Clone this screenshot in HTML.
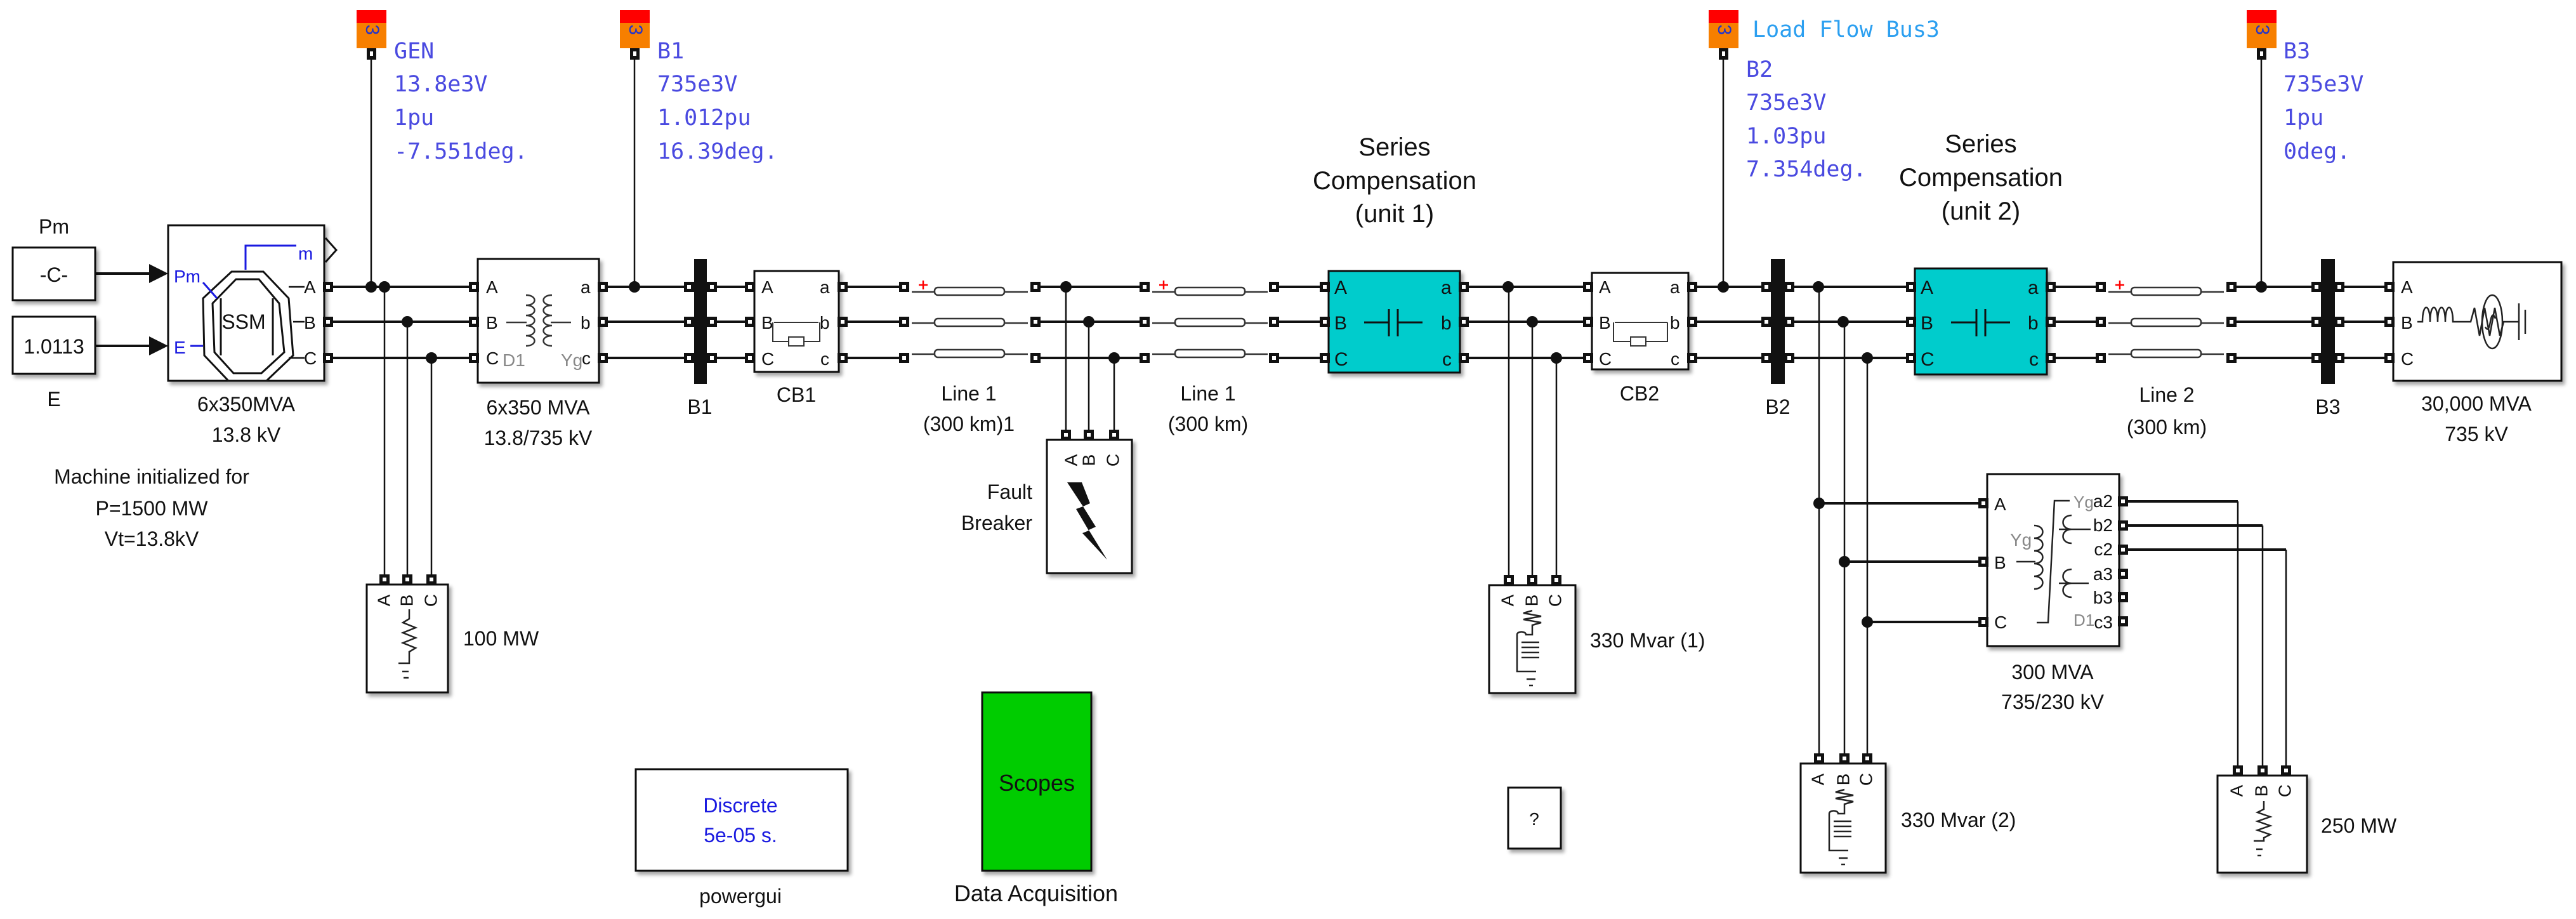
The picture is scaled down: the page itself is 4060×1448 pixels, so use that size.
<!DOCTYPE html>
<html><head><meta charset="utf-8"><style>
html,body{margin:0;padding:0;background:#fff;}
svg{display:block}
.t{font-family:"Liberation Sans",Arial,sans-serif;fill:#111;}
.p{font-family:"DejaVu Sans Mono","Liberation Mono",monospace;fill:#4a4ae0;font-size:35px;}
</style></head><body>
<svg width="4060" height="1448" viewBox="0 0 4060 1448" xmlns="http://www.w3.org/2000/svg">
<defs>
<g id="pt"><rect x="-8" y="-8" width="16" height="16" fill="#111"/><rect x="-3" y="-3" width="6" height="6" fill="#fff"/></g>
<g id="probe"><rect x="0" y="0" width="47" height="22" fill="#f00"/><rect x="0" y="20" width="47" height="40" fill="#f77f00"/><text x="14" y="40" transform="rotate(90 23 40)" font-family="Liberation Sans,sans-serif" font-size="30" fill="#2233cc" text-anchor="middle" dominant-baseline="middle">3</text><rect x="16" y="60" width="15" height="18" fill="#111"/><rect x="21" y="65" width="5" height="7" fill="#fff"/></g>
<filter id="sh" x="-10%" y="-10%" width="130%" height="130%"><feDropShadow dx="4" dy="5" stdDeviation="3" flood-color="#000" flood-opacity="0.35"/></filter>
</defs>

<!-- main wires -->
<g stroke="#111" stroke-width="4" fill="none">
<path d="M150 431H258M150 545H258"/>
<path d="M517 452H749M517 507H749M517 564H749"/>
<path d="M950 452H1182M950 507H1182M950 564H1182"/>
<path d="M1328 452H1417M1328 507H1417M1328 564H1417"/>
<path d="M1640 452H1796M1640 507H1796M1640 564H1796"/>
<path d="M2015 452H2088M2015 507H2088M2015 564H2088"/>
<path d="M2307 452H2503M2307 507H2503M2307 564H2503"/>
<path d="M2667 452H3012M2667 507H3012M2667 564H3012"/>
<path d="M3232 452H3304M3232 507H3304M3232 564H3304"/>
<path d="M3524 452H3766M3524 507H3766M3524 564H3766"/>
</g>
<!-- verticals -->
<g stroke="#111" stroke-width="2.5" fill="none">
<path d="M585 81V452M1000 81V452M2716 81V452M3564 81V452"/>
<path d="M606 452V913M642 507V913M680 564V913"/>
<path d="M1680 452V685M1716 507V685M1756 564V685"/>
<path d="M2378 452V913M2415 507V913M2453 564V913"/>
<path d="M2867 452V1195M2907 507V1195M2943 564V1195"/>
<path d="M3527 790V1214M3566 828V1214M3603 866V1214"/>
</g>
<g stroke="#111" stroke-width="4" fill="none">
<path d="M2867 793H3127M2907 885H3127M2943 980H3127"/>
<path d="M3346 790H3527M3346 828H3566M3346 866H3603"/>
</g>
<!-- dots -->
<g fill="#111">
<circle cx="585" cy="452" r="9"/><circle cx="606" cy="452" r="9"/><circle cx="642" cy="507" r="9"/><circle cx="680" cy="564" r="9"/>
<circle cx="1000" cy="452" r="9"/>
<circle cx="1680" cy="452" r="9"/><circle cx="1716" cy="507" r="9"/><circle cx="1756" cy="564" r="9"/>
<circle cx="2377" cy="452" r="9"/><circle cx="2415" cy="507" r="9"/><circle cx="2453" cy="564" r="9"/>
<circle cx="2716" cy="452" r="9"/>
<circle cx="2866" cy="452" r="9"/><circle cx="2905" cy="507" r="9"/><circle cx="2943" cy="564" r="9"/>
<circle cx="3564" cy="452" r="9"/>
<circle cx="2867" cy="793" r="9"/><circle cx="2907" cy="885" r="9"/><circle cx="2943" cy="980" r="9"/>
</g>

<!-- probes -->
<use href="#probe" x="562" y="16"/><use href="#probe" x="977" y="16"/><use href="#probe" x="2693" y="16"/><use href="#probe" x="3541" y="16"/>
<g class="p">
<text x="621" y="92">GEN</text><text x="621" y="144">13.8e3V</text><text x="621" y="197">1pu</text><text x="621" y="250">-7.551deg.</text>
<text x="1036" y="92">B1</text><text x="1036" y="144">735e3V</text><text x="1036" y="197">1.012pu</text><text x="1036" y="250">16.39deg.</text>
<text x="2752" y="121">B2</text><text x="2752" y="173">735e3V</text><text x="2752" y="226">1.03pu</text><text x="2752" y="278">7.354deg.</text>
<text x="3599" y="92">B3</text><text x="3599" y="144">735e3V</text><text x="3599" y="197">1pu</text><text x="3599" y="250">0deg.</text>
<text x="2762" y="58" style="fill:#2b9ff0">Load Flow Bus3</text>
</g>

<!-- constants -->
<rect x="20" y="390" width="130" height="83" fill="#fff" stroke="#111" stroke-width="3" filter="url(#sh)"/>
<text class="t" x="85" y="444" font-size="32" text-anchor="middle">-C-</text>
<rect x="20" y="499" width="130" height="90" fill="#fff" stroke="#111" stroke-width="3" filter="url(#sh)"/>
<text class="t" x="85" y="557" font-size="32" text-anchor="middle">1.0113</text>
<text class="t" x="85" y="368" font-size="32" text-anchor="middle">Pm</text>
<text class="t" x="85" y="640" font-size="32" text-anchor="middle">E</text>
<path d="M235 416L265 431L235 446Z M235 530L265 545L235 560Z" fill="#111"/>

<!-- machine -->
<rect x="265" y="355" width="246" height="245" fill="#fff" stroke="#111" stroke-width="3" filter="url(#sh)"/>
<path d="M513 375L530 394L513 413" fill="none" stroke="#111" stroke-width="3"/>
<polygon points="365,428 415,428 455,470 462,560 420,600 360,600 322,560 320,470" fill="none" stroke="#111" stroke-width="3"/>
<polygon points="372,440 408,440 440,478 448,555 412,588 368,588 338,555 335,478" fill="none" stroke="#111" stroke-width="3"/>
<path d="M348 470V560M430 470V560" stroke="#111" stroke-width="3"/>
<text class="t" x="384" y="518" font-size="32" text-anchor="middle">SSM</text>
<path d="M387 425V387H467" stroke="#1a1ae0" stroke-width="3" fill="none"/>
<text class="t" x="470" y="409" font-size="28" style="fill:#1a1ae0">m</text>
<text class="t" x="274" y="445" font-size="28" style="fill:#1a1ae0">Pm</text>
<text class="t" x="274" y="557" font-size="28" style="fill:#1a1ae0">E</text>
<path d="M300 545H320M320 445L342 470" stroke="#1a1ae0" stroke-width="3" fill="none"/>
<path d="M455 452H480M462 507H480M455 564H480" stroke="#111" stroke-width="2.5"/>
<g class="t" font-size="28"><text x="479" y="462">A</text><text x="479" y="518">B</text><text x="479" y="574">C</text></g>
<text class="t" x="388" y="648" font-size="32" text-anchor="middle">6x350MVA</text>
<text class="t" x="388" y="696" font-size="32" text-anchor="middle">13.8 kV</text>
<g class="t" font-size="32" text-anchor="middle"><text x="239" y="762">Machine initialized for</text><text x="239" y="812">P=1500 MW</text><text x="239" y="860">Vt=13.8kV</text></g>

<!-- transformer 1 -->
<rect x="753" y="408" width="191" height="195" fill="#fff" stroke="#111" stroke-width="3" filter="url(#sh)"/>
<g class="t" font-size="28"><text x="766" y="462">A</text><text x="766" y="518">B</text><text x="766" y="574">C</text>
<text x="915" y="462">a</text><text x="915" y="518">b</text><text x="917" y="574">c</text></g>
<text class="t" x="792" y="577" font-size="28" style="fill:#888">D1</text><text class="t" x="884" y="577" font-size="28" style="fill:#888">Yg</text>
<path d="M829 465c18 0 18 16 0 16M829 481c18 0 18 16 0 16M829 497c18 0 18 16 0 16M829 513c18 0 18 16 0 16M829 529c18 0 18 16 0 16 M870 465c-18 0-18 16 0 16M870 481c-18 0-18 16 0 16M870 497c-18 0-18 16 0 16M870 513c-18 0-18 16 0 16M870 529c-18 0-18 16 0 16 M798 508H830M868 508H900" fill="none" stroke="#333" stroke-width="2.5"/>
<text class="t" x="848" y="653" font-size="32" text-anchor="middle">6x350 MVA</text>
<text class="t" x="848" y="701" font-size="32" text-anchor="middle">13.8/735 kV</text>

<!-- buses -->
<rect x="1094" y="408" width="20" height="197" fill="#111"/>
<rect x="2791" y="408" width="22" height="197" fill="#111"/>
<rect x="3658" y="408" width="22" height="197" fill="#111"/>
<text class="t" x="1103" y="652" font-size="32" text-anchor="middle">B1</text>
<text class="t" x="2802" y="652" font-size="32" text-anchor="middle">B2</text>
<text class="t" x="3669" y="652" font-size="32" text-anchor="middle">B3</text>

<!-- CB1 & CB2 -->
<rect x="1189" y="427" width="133" height="159" fill="#fff" stroke="#111" stroke-width="3" filter="url(#sh)"/>
<g class="t" font-size="28"><text x="1200" y="462">A</text><text x="1200" y="518">B</text><text x="1200" y="575">C</text><text x="1292" y="462">a</text><text x="1292" y="518">b</text><text x="1293" y="575">c</text></g>
<path d="M1220 508H1290M1218 508V538H1243M1267 538H1292V508" fill="none" stroke="#333" stroke-width="2"/><rect x="1243" y="531" width="24" height="14" fill="#fff" stroke="#333" stroke-width="2"/>
<text class="t" x="1255" y="633" font-size="32" text-anchor="middle">CB1</text>
<rect x="2509" y="430" width="152" height="152" fill="#fff" stroke="#111" stroke-width="3" filter="url(#sh)"/>
<g class="t" font-size="28"><text x="2520" y="462">A</text><text x="2520" y="518">B</text><text x="2520" y="575">C</text><text x="2632" y="462">a</text><text x="2632" y="518">b</text><text x="2633" y="575">c</text></g>
<path d="M2545 508H2628M2543 508V538H2570M2594 538H2628V508" fill="none" stroke="#333" stroke-width="2"/><rect x="2570" y="531" width="24" height="14" fill="#fff" stroke="#333" stroke-width="2"/>
<text class="t" x="2584" y="631" font-size="32" text-anchor="middle">CB2</text>

<!-- lines -->
<g fill="#fff" stroke="#333" stroke-width="2.5">
<path d="M1437 460H1473M1583 460H1620M1437 509H1473M1583 509H1620M1437 558H1473M1583 558H1620" fill="none"/>
<rect x="1473" y="453" width="110" height="12" rx="5"/><rect x="1473" y="502" width="110" height="12" rx="5"/><rect x="1473" y="551" width="110" height="12" rx="5"/>
<path d="M1816 460H1852M1962 460H1998M1816 509H1852M1962 509H1998M1816 558H1852M1962 558H1998" fill="none"/>
<rect x="1852" y="453" width="110" height="12" rx="5"/><rect x="1852" y="502" width="110" height="12" rx="5"/><rect x="1852" y="551" width="110" height="12" rx="5"/>
<path d="M3323 460H3359M3469 460H3505M3323 509H3359M3469 509H3505M3323 558H3359M3469 558H3505" fill="none"/>
<rect x="3359" y="453" width="110" height="12" rx="5"/><rect x="3359" y="502" width="110" height="12" rx="5"/><rect x="3359" y="551" width="110" height="12" rx="5"/>
</g>
<g stroke="#f00" stroke-width="2.5"><path d="M1448 449h14M1455 442v14M1827 449h14M1834 442v14M3334 449h14M3341 442v14"/></g>
<g class="t" font-size="32" text-anchor="middle">
<text x="1527" y="631">Line 1</text><text x="1527" y="679">(300 km)1</text>
<text x="1904" y="631">Line 1</text><text x="1904" y="679">(300 km)</text>
<text x="3415" y="633">Line 2</text><text x="3415" y="684">(300 km)</text>
</g>

<!-- series compensation -->
<rect x="2094" y="427" width="207" height="160" fill="#00cccc" stroke="#111" stroke-width="3" filter="url(#sh)"/>
<rect x="3018" y="423" width="208" height="167" fill="#00cccc" stroke="#111" stroke-width="3" filter="url(#sh)"/>
<g class="t" font-size="30"><text x="2103" y="463">A</text><text x="2103" y="519">B</text><text x="2103" y="576">C</text><text x="2271" y="463">a</text><text x="2271" y="519">b</text><text x="2273" y="576">c</text>
<text x="3027" y="463">A</text><text x="3027" y="519">B</text><text x="3027" y="576">C</text><text x="3196" y="463">a</text><text x="3196" y="519">b</text><text x="3198" y="576">c</text></g>
<path d="M2150 508H2189M2189 487V530M2203 487V530M2203 508H2242 M3075 508H3115M3115 487V530M3129 487V530M3129 508H3168" stroke="#111" stroke-width="3" fill="none"/>
<g class="t" font-size="40" text-anchor="middle"><text x="2198" y="245">Series</text><text x="2198" y="298">Compensation</text><text x="2198" y="350">(unit 1)</text>
<text x="3122" y="240">Series</text><text x="3122" y="293">Compensation</text><text x="3122" y="346">(unit 2)</text></g>

<!-- source -->
<rect x="3772" y="413" width="265" height="187" fill="#fff" stroke="#111" stroke-width="3" filter="url(#sh)"/>
<g class="t" font-size="28"><text x="3784" y="462">A</text><text x="3784" y="518">B</text><text x="3784" y="575">C</text></g>
<path d="M3810 507h8c0-30 12-30 12 0c0-30 12-30 12 0c0-30 12-30 12 0c0-30 12-30 12 0h28l6-22l8 44l8-44l8 44l8-44l8 44l6-22h12M3944 507h26M3970 478v58M3980 488v38" fill="none" stroke="#222" stroke-width="2.5"/>
<ellipse cx="3928" cy="507" rx="16" ry="42" fill="none" stroke="#222" stroke-width="2.5"/>
<path d="M3917 515q5 10 8-8t8-5" fill="none" stroke="#222" stroke-width="2.5"/>
<text class="t" x="3903" y="647" font-size="32" text-anchor="middle">30,000 MVA</text>
<text class="t" x="3903" y="695" font-size="32" text-anchor="middle">735 kV</text>

<!-- Fault breaker -->
<rect x="1650" y="693" width="134" height="210" fill="#fff" stroke="#111" stroke-width="3" filter="url(#sh)"/>
<g class="t" font-size="28"><text transform="translate(1690 725) rotate(-90)" text-anchor="middle" dominant-baseline="middle">A</text><text transform="translate(1718 725) rotate(-90)" text-anchor="middle" dominant-baseline="middle">B</text><text transform="translate(1756 725) rotate(-90)" text-anchor="middle" dominant-baseline="middle">C</text></g>
<path d="M1682 760L1705 760L1718 793L1707 798L1727 830L1716 835L1745 882L1706 840L1716 836L1696 802L1707 798Z" fill="#111"/>
<text class="t" x="1627" y="786" font-size="32" text-anchor="end">Fault</text>
<text class="t" x="1627" y="835" font-size="32" text-anchor="end">Breaker</text>

<!-- loads -->
<g>
<rect x="578" y="921" width="128" height="170" fill="#fff" stroke="#111" stroke-width="3" filter="url(#sh)"/>
<g class="t" font-size="28"><text transform="translate(607 946) rotate(-90)" text-anchor="middle" dominant-baseline="middle">A</text><text transform="translate(643 946) rotate(-90)" text-anchor="middle" dominant-baseline="middle">B</text><text transform="translate(681 946) rotate(-90)" text-anchor="middle" dominant-baseline="middle">C</text></g>
<path d="M645 960V975l-10 6l20 8l-20 8l20 8l-20 8l20 8l-10 6V1045H628M634 1058h10M636 1068h8" fill="none" stroke="#222" stroke-width="2.5"/>
<text class="t" x="730" y="1017" font-size="32">100 MW</text>
</g>
<g>
<rect x="2347" y="922" width="136" height="170" fill="#fff" stroke="#111" stroke-width="3" filter="url(#sh)"/>
<g class="t" font-size="28"><text transform="translate(2378 946) rotate(-90)" text-anchor="middle" dominant-baseline="middle">A</text><text transform="translate(2416 946) rotate(-90)" text-anchor="middle" dominant-baseline="middle">B</text><text transform="translate(2453 946) rotate(-90)" text-anchor="middle" dominant-baseline="middle">C</text></g>
<path d="M2415 962l-14 4l28 5l-28 5l28 5l-14 4V1000h-10c0-6-14-6-14 0V1058h30M2398 1012h28M2398 1020h28M2398 1028h28M2398 1036h28M2406 1070h14M2410 1080h6" fill="none" stroke="#222" stroke-width="2.5"/>
<text class="t" x="2506" y="1020" font-size="32">330 Mvar (1)</text>
</g>
<g>
<rect x="2838" y="1203" width="134" height="172" fill="#fff" stroke="#111" stroke-width="3" filter="url(#sh)"/>
<g class="t" font-size="28"><text transform="translate(2867 1228) rotate(-90)" text-anchor="middle" dominant-baseline="middle">A</text><text transform="translate(2907 1228) rotate(-90)" text-anchor="middle" dominant-baseline="middle">B</text><text transform="translate(2943 1228) rotate(-90)" text-anchor="middle" dominant-baseline="middle">C</text></g>
<path d="M2907 1244l-14 4l28 5l-28 5l28 5l-14 4V1282h-10c0-6-14-6-14 0V1340h30M2890 1294h28M2890 1302h28M2890 1310h28M2890 1318h28M2898 1352h14M2902 1362h6" fill="none" stroke="#222" stroke-width="2.5"/>
<text class="t" x="2996" y="1303" font-size="32">330 Mvar (2)</text>
</g>
<g>
<rect x="3495" y="1222" width="141" height="153" fill="#fff" stroke="#111" stroke-width="3" filter="url(#sh)"/>
<g class="t" font-size="28"><text transform="translate(3527 1246) rotate(-90)" text-anchor="middle" dominant-baseline="middle">A</text><text transform="translate(3566 1246) rotate(-90)" text-anchor="middle" dominant-baseline="middle">B</text><text transform="translate(3603 1246) rotate(-90)" text-anchor="middle" dominant-baseline="middle">C</text></g>
<path d="M3568 1262V1275l-10 5l20 7l-20 7l20 7l-20 7l20 7l-10 5V1325H3552M3556 1338h10M3558 1348h6" fill="none" stroke="#222" stroke-width="2.5"/>
<text class="t" x="3658" y="1312" font-size="32">250 MW</text>
</g>

<!-- transformer 2 -->
<rect x="3132" y="747" width="208" height="271" fill="#fff" stroke="#111" stroke-width="3" filter="url(#sh)"/>
<g class="t" font-size="28"><text x="3143" y="804">A</text><text x="3143" y="896">B</text><text x="3143" y="990">C</text>
<g text-anchor="end"><text x="3330" y="799">a2</text><text x="3330" y="837">b2</text><text x="3330" y="875">c2</text><text x="3330" y="914">a3</text><text x="3330" y="951">b3</text><text x="3330" y="990">c3</text></g></g>
<text class="t" x="3168" y="860" font-size="28" style="fill:#888">Yg</text><text class="t" x="3268" y="800" font-size="26" style="fill:#888">Yg</text><text class="t" x="3268" y="986" font-size="26" style="fill:#888">D1</text>
<path d="M3178 885H3208M3206 828c18 0 18 20 0 20M3206 848c18 0 18 20 0 20M3206 868c18 0 18 20 0 20M3206 888c18 0 18 20 0 20M3206 908c18 0 18 20 0 20 M3210 981H3228L3238 789H3262 M3265 812c-18 0-18 22 0 22M3265 834c-18 0-18 22 0 22M3245 834H3295 M3265 897c-18 0-18 22 0 22M3265 919c-18 0-18 22 0 22M3245 919H3292" fill="none" stroke="#222" stroke-width="2.5"/>
<text class="t" x="3235" y="1070" font-size="32" text-anchor="middle">300 MVA</text>
<text class="t" x="3235" y="1117" font-size="32" text-anchor="middle">735/230 kV</text>

<!-- powergui, scopes, ? -->
<rect x="1002" y="1212" width="334" height="160" fill="#fff" stroke="#111" stroke-width="3" filter="url(#sh)"/>
<text class="t" x="1167" y="1280" font-size="32" text-anchor="middle" style="fill:#1a1ae0">Discrete</text>
<text class="t" x="1167" y="1327" font-size="32" text-anchor="middle" style="fill:#1a1ae0">5e-05 s.</text>
<text class="t" x="1167" y="1423" font-size="32" text-anchor="middle">powergui</text>
<rect x="1548" y="1091" width="172" height="281" fill="#00cc00" stroke="#111" stroke-width="3" filter="url(#sh)"/>
<text class="t" x="1634" y="1246" font-size="36" text-anchor="middle">Scopes</text>
<text class="t" x="1633" y="1420" font-size="36" text-anchor="middle">Data Acquisition</text>
<rect x="2377" y="1241" width="83" height="96" fill="#fff" stroke="#111" stroke-width="3" filter="url(#sh)"/>
<text class="t" x="2418" y="1300" font-size="28" text-anchor="middle">?</text>

<!-- ports -->
<g>
<use href="#pt" x="517" y="452"/><use href="#pt" x="517" y="507"/><use href="#pt" x="517" y="564"/>
<use href="#pt" x="747" y="452"/><use href="#pt" x="747" y="507"/><use href="#pt" x="747" y="564"/>
<use href="#pt" x="950" y="452"/><use href="#pt" x="950" y="507"/><use href="#pt" x="950" y="564"/>
<use href="#pt" x="1086" y="452"/><use href="#pt" x="1086" y="507"/><use href="#pt" x="1086" y="564"/>
<use href="#pt" x="1122" y="452"/><use href="#pt" x="1122" y="507"/><use href="#pt" x="1122" y="564"/>
<use href="#pt" x="1182" y="452"/><use href="#pt" x="1182" y="507"/><use href="#pt" x="1182" y="564"/>
<use href="#pt" x="1328" y="452"/><use href="#pt" x="1328" y="507"/><use href="#pt" x="1328" y="564"/>
<use href="#pt" x="1425" y="452"/><use href="#pt" x="1425" y="507"/><use href="#pt" x="1425" y="564"/>
<use href="#pt" x="1632" y="452"/><use href="#pt" x="1632" y="507"/><use href="#pt" x="1632" y="564"/>
<use href="#pt" x="1804" y="452"/><use href="#pt" x="1804" y="507"/><use href="#pt" x="1804" y="564"/>
<use href="#pt" x="2008" y="452"/><use href="#pt" x="2008" y="507"/><use href="#pt" x="2008" y="564"/>
<use href="#pt" x="2088" y="452"/><use href="#pt" x="2088" y="507"/><use href="#pt" x="2088" y="564"/>
<use href="#pt" x="2307" y="452"/><use href="#pt" x="2307" y="507"/><use href="#pt" x="2307" y="564"/>
<use href="#pt" x="2503" y="452"/><use href="#pt" x="2503" y="507"/><use href="#pt" x="2503" y="564"/>
<use href="#pt" x="2667" y="452"/><use href="#pt" x="2667" y="507"/><use href="#pt" x="2667" y="564"/>
<use href="#pt" x="2784" y="452"/><use href="#pt" x="2784" y="507"/><use href="#pt" x="2784" y="564"/>
<use href="#pt" x="2820" y="452"/><use href="#pt" x="2820" y="507"/><use href="#pt" x="2820" y="564"/>
<use href="#pt" x="3012" y="452"/><use href="#pt" x="3012" y="507"/><use href="#pt" x="3012" y="564"/>
<use href="#pt" x="3232" y="452"/><use href="#pt" x="3232" y="507"/><use href="#pt" x="3232" y="564"/>
<use href="#pt" x="3311" y="452"/><use href="#pt" x="3311" y="507"/><use href="#pt" x="3311" y="564"/>
<use href="#pt" x="3517" y="452"/><use href="#pt" x="3517" y="507"/><use href="#pt" x="3517" y="564"/>
<use href="#pt" x="3651" y="452"/><use href="#pt" x="3651" y="507"/><use href="#pt" x="3651" y="564"/>
<use href="#pt" x="3687" y="452"/><use href="#pt" x="3687" y="507"/><use href="#pt" x="3687" y="564"/>
<use href="#pt" x="3766" y="452"/><use href="#pt" x="3766" y="507"/><use href="#pt" x="3766" y="564"/>
<use href="#pt" x="606" y="913"/><use href="#pt" x="642" y="913"/><use href="#pt" x="680" y="913"/>
<use href="#pt" x="1680" y="685"/><use href="#pt" x="1716" y="685"/><use href="#pt" x="1756" y="685"/>
<use href="#pt" x="2378" y="914"/><use href="#pt" x="2415" y="914"/><use href="#pt" x="2453" y="914"/>
<use href="#pt" x="2867" y="1195"/><use href="#pt" x="2907" y="1195"/><use href="#pt" x="2943" y="1195"/>
<use href="#pt" x="3527" y="1214"/><use href="#pt" x="3566" y="1214"/><use href="#pt" x="3603" y="1214"/>
<use href="#pt" x="3126" y="793"/><use href="#pt" x="3126" y="885"/><use href="#pt" x="3126" y="980"/>
<use href="#pt" x="3346" y="790"/><use href="#pt" x="3346" y="828"/><use href="#pt" x="3346" y="866"/><use href="#pt" x="3346" y="904"/><use href="#pt" x="3346" y="941"/><use href="#pt" x="3346" y="979"/>
</g>
</svg>
</body></html>
